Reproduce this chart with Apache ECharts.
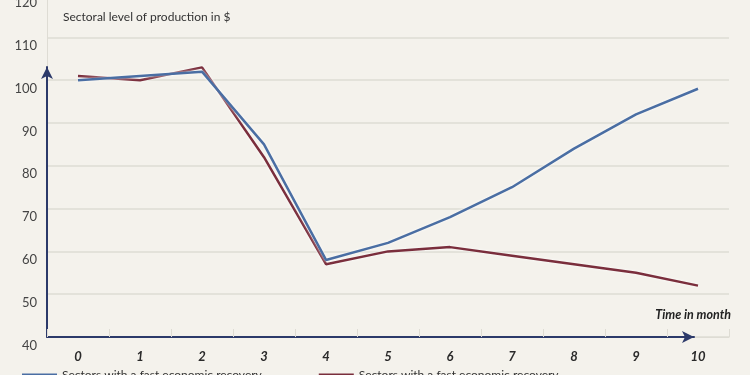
<!DOCTYPE html>
<html>
<head>
<meta charset="utf-8">
<script src="https://cdn.jsdelivr.net/npm/echarts@6/dist/echarts.min.js"></script>
<style>
  html, body { margin: 0; padding: 0; background: #f4f2ec; overflow: hidden; width: 750px; height: 375px; position: relative; }
  #chart { position: absolute; left: 0; top: -6px; width: 750px; height: 381px; }
</style>
</head>
<body>
<div id="chart"></div>
<script>
const categories = ['0', '1', '2', '3', '4', '5', '6', '7', '8', '9', '10'];
const fastRecovery = [100, 101, 102, 85, 58, 62, 68, 75, 84, 92, 98];
const slowRecovery = [101, 100, 103, 82, 57, 60, 61, 59, 57, 55, 52];
const seriesNames = ['Sectors with a fast economic recovery', 'Sectors with a fast economic recovery '];
const yTicks = { min: 40, max: 120, interval: 10 };

const chart = echarts.init(document.getElementById('chart'));
const navy = '#2c3a6a';
const grey = '#dedcd4';
const font = 'Lato';

chart.setOption({
  backgroundColor: '#f4f2ec',
  animation: false,
  textStyle: { fontFamily: font },
  title: [
    { text: 'Sectoral level of production in $', left: 58, top: 12,
      textStyle: { fontFamily: font, fontSize: 12, fontWeight: 'normal', color: '#333' } },
    { text: 'Time in month', right: 14, top: 309,
      textStyle: { fontFamily: font, fontSize: 12.5, fontWeight: 'bold', fontStyle: 'italic', color: '#222' } }
  ],
  legend: {
    left: 17, top: 370, itemWidth: 35, itemHeight: 3, itemGap: 57, icon: 'rect',
    textStyle: { fontFamily: font, fontSize: 12, color: '#333' },
    data: seriesNames
  },
  grid: [
    { left: 47, right: 21, top: 0.6, bottom: 38 },
    { left: 47, right: 56, top: 73, bottom: 38 }
  ],
  xAxis: [
    { type: 'category', data: categories, gridIndex: 0, boundaryGap: true,
      axisLine: { show: true, lineStyle: { color: grey, width: 1 } },
      axisTick: { show: true, inside: true, length: 8, interval: 0, lineStyle: { color: grey } },
      axisLabel: { margin: 13, fontFamily: font, fontSize: 13, fontWeight: 'bold', fontStyle: 'italic', color: '#2a2a2a' },
      splitLine: { show: false } },
    { type: 'value', gridIndex: 1, min: 0, max: 1,
      axisLine: { show: true, symbol: ['none', 'arrow'], symbolSize: [9, 12], lineStyle: { color: navy, width: 2 } },
      axisTick: { show: false }, axisLabel: { show: false }, splitLine: { show: false } }
  ],
  yAxis: [
    { type: 'value', gridIndex: 0, min: yTicks.min, max: yTicks.max, interval: yTicks.interval,
      axisLine: { show: true, lineStyle: { color: grey } },
      axisTick: { show: false },
      axisLabel: { margin: 10, verticalAlign: 'top', padding: [2, 0, 0, 0], fontFamily: font, fontSize: 13, color: '#444' },
      splitLine: { show: true, lineStyle: { color: grey, width: 1.5 } } },
    { type: 'value', gridIndex: 1, min: 0, max: 1,
      axisLine: { show: true, symbol: ['none', 'arrow'], symbolSize: [9, 12], lineStyle: { color: navy, width: 2 } },
      axisTick: { show: false }, axisLabel: { show: false }, splitLine: { show: false } }
  ],
  series: [
    { name: seriesNames[1], type: 'line', data: slowRecovery, xAxisIndex: 0, yAxisIndex: 0,
      showSymbol: false, symbol: 'none', color: '#7a2e3c',
      lineStyle: { width: 2.5, color: '#7a2e3c', shadowColor: 'rgba(255,255,255,0.9)', shadowBlur: 3 } },
    { name: seriesNames[0], type: 'line', data: fastRecovery, xAxisIndex: 0, yAxisIndex: 0,
      showSymbol: false, symbol: 'none', color: '#4a6ea3',
      lineStyle: { width: 2.5, color: '#4a6ea3', shadowColor: 'rgba(255,255,255,0.9)', shadowBlur: 3 } }
  ]
});
</script>
</body>
</html>
